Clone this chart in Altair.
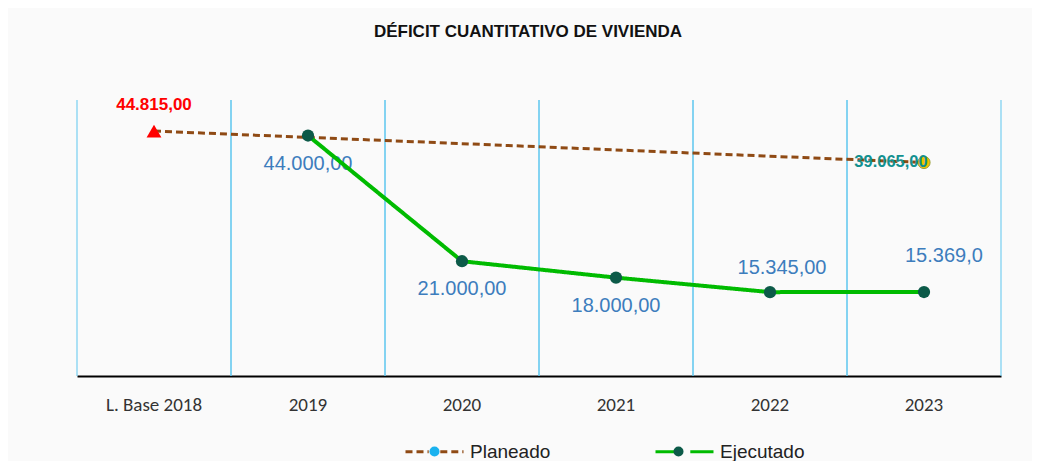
import altair as alt
import pandas as pd

categories = ["L. Base 2018", "2019", "2020", "2021", "2022", "2023"]
series = ["Planeado", "Ejecutado"]
# keys of the marker legend (trailing space keeps it a separate, overlaid legend)
marker_keys = ["Planeado ", "Ejecutado "]

plan_cats = ["L. Base 2018", "2023"]
plan_values = [44815, 39065]
plan_labels = ["44.815,00", "39.065,00"]

exec_cats = ["2019", "2020", "2021", "2022", "2023"]
exec_values = [44000, 21000, 18000, 15345, 15369]
exec_labels = ["44.000,00", "21.000,00", "18.000,00", "15.345,00", "15.369,0"]

cat_df = pd.DataFrame({"cat": categories})
plan_df = pd.DataFrame({"cat": plan_cats, "value": plan_values, "label": plan_labels,
                        "serie": series[0], "marker": marker_keys[0]})
exec_df = pd.DataFrame({"cat": exec_cats, "value": exec_values, "label": exec_labels,
                        "serie": series[1], "marker": marker_keys[1]})

BROWN = "#8f4a14"
GREEN = "#00bb00"
DKGREEN = "#0c5a48"
LBLUE = "#1ab2ef"
GRID = "#5cc6ef"
LABEL_BLUE = "#3d7dbd"

xscale = alt.Scale(domain=categories, paddingInner=0, paddingOuter=0)
yscale = alt.Scale(domain=[0, 50500])

axis = alt.Axis(
    labelAngle=0,
    labelFont="Carlito, Liberation Sans Narrow, DejaVu Sans Condensed",
    labelFontSize=19,
    labelColor="#333333",
    labelPadding=19,
    ticks=False,
    grid=False,
    domainColor="#000000",
    domainWidth=2,
)


def X(**kw):
    return alt.X("cat:N", sort=categories, scale=xscale, title=None, axis=axis, **kw)


Y = alt.Y("value:Q", scale=yscale, axis=None)

LX, LY = 327, 321
line_legend = alt.Legend(
    title=None,
    orient="none",
    legendX=LX,
    legendY=LY,
    direction="horizontal",
    symbolType="M-1,0H-0.2M0.2,0H1",
    symbolSize=3364,
    symbolStrokeWidth=3,
    labelFont="Liberation Sans",
    labelFontSize=19,
    labelColor="#222222",
    labelOffset=5,
    columnPadding=98,
)
marker_legend = alt.Legend(
    title=None,
    orient="none",
    legendX=LX + 25.5,
    legendY=LY + 25.5,
    direction="horizontal",
    symbolType="circle",
    symbolSize=100,
    symbolStrokeWidth=0,
    symbolOpacity=1,
    labelExpr="''",
    labelFontSize=1,
    labelOffset=0,
    columnPadding=234,
)

stroke_enc = alt.Stroke("serie:N", scale=alt.Scale(domain=series, range=[BROWN, GREEN]), legend=line_legend)
dash_enc = alt.StrokeDash("serie:N", scale=alt.Scale(domain=series, range=[[7, 4], [1, 0]]), legend=line_legend)
fill_enc = alt.Fill("marker:N", scale=alt.Scale(domain=marker_keys, range=[LBLUE, DKGREEN]), legend=marker_legend)

grid_left = alt.Chart(cat_df).mark_rule(color=GRID, strokeWidth=1).encode(x=X(bandPosition=0))
grid_right = alt.Chart(cat_df).mark_rule(color=GRID, strokeWidth=1).encode(x=X(bandPosition=1))

plan_line = alt.Chart(plan_df).mark_line(strokeWidth=3).encode(x=X(), y=Y, stroke=stroke_enc, strokeDash=dash_enc)
exec_line = alt.Chart(exec_df).mark_line(strokeWidth=4).encode(x=X(), y=Y, stroke=stroke_enc, strokeDash=dash_enc)

exec_labels_below = alt.Chart(exec_df).transform_filter(
    alt.FieldOneOfPredicate(field="cat", oneOf=["2019", "2020", "2021"])
).mark_text(font="Liberation Sans", fontSize=20, color=LABEL_BLUE, baseline="middle", dy=28).encode(
    x=X(), y=Y, text="label:N"
)
exec_label_2022 = alt.Chart(exec_df).transform_filter(alt.datum.cat == "2022").mark_text(
    font="Liberation Sans", fontSize=20, color=LABEL_BLUE, baseline="middle", dy=-24, dx=12
).encode(x=X(), y=Y, text="label:N")
exec_label_2023 = alt.Chart(exec_df).transform_filter(alt.datum.cat == "2023").mark_text(
    font="Liberation Sans", fontSize=20, color=LABEL_BLUE, baseline="middle", align="left", dy=-36, dx=-19
).encode(x=X(), y=Y, text="label:N")

exec_points = alt.Chart(exec_df).mark_circle(size=150, opacity=1).encode(x=X(), y=Y, fill=fill_enc)

base_tri = alt.Chart(plan_df).transform_filter(alt.datum.cat == "L. Base 2018").mark_point(
    shape="triangle-up", filled=True, color="#ff0000", size=220, opacity=1
).encode(x=X(), y=Y)
base_label = alt.Chart(plan_df).transform_filter(alt.datum.cat == "L. Base 2018").mark_text(
    font="Liberation Sans", fontSize=17, fontWeight="bold", color="#ff0000", baseline="middle", dy=-26
).encode(x=X(), y=Y, text="label:N")

end_pt = alt.Chart(plan_df).transform_filter(alt.datum.cat == "2023").mark_circle(
    size=150, fill="#f3c300", stroke="#9aa040", strokeWidth=1, opacity=1
).encode(x=X(), y=Y)
end_label = alt.Chart(plan_df).transform_filter(alt.datum.cat == "2023").mark_text(
    font="Liberation Sans", fontSize=16.5, fontWeight="bold", color="#12908f", baseline="middle", dx=-33
).encode(x=X(), y=Y, text="label:N")

chart = alt.layer(
    grid_left, grid_right,
    exec_labels_below, exec_label_2022, exec_label_2023,
    plan_line, exec_line, exec_points,
    base_tri, base_label, end_pt, end_label,
).properties(
    width=924,
    height=276,
    autosize=alt.AutoSizeParams(type="none"),
    padding={"left": 69, "top": 92, "right": 31, "bottom": 85},
    background="#fafafa",
    title=alt.TitleParams(
        "DÉFICIT CUANTITATIVO  DE VIVIENDA",
        font="Liberation Sans",
        fontSize=17,
        fontWeight="bold",
        color="#111111",
        anchor="middle",
        offset=55,
        dx=-11,
    ),
).configure_view(stroke=None)

chart.save("out.html", embed_options={"renderer": "svg", "actions": False})
